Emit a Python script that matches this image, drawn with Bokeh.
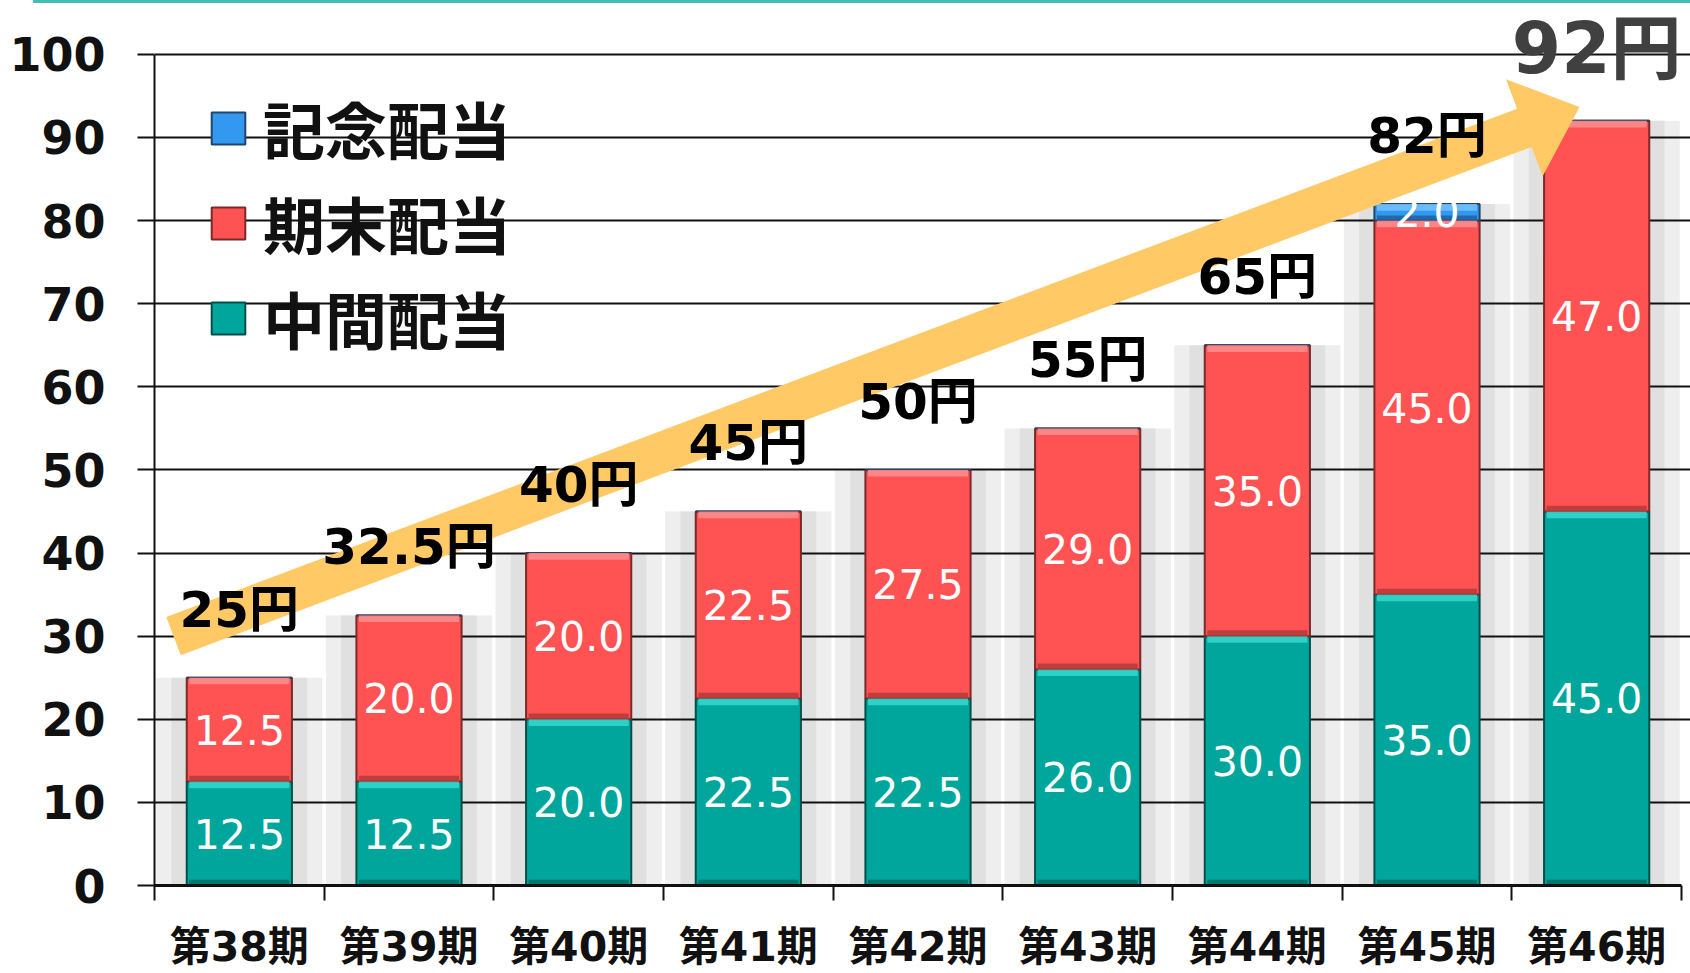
import math
from bokeh.plotting import figure
from bokeh.layouts import column
from bokeh.models import (Range1d, FixedTicker, ColumnDataSource, LabelSet,
                          Legend, LegendItem, Div)
from bokeh.core.properties import value
from bokeh.embed import file_html
from bokeh.resources import INLINE

# ---------------- data ----------------
categories = ["第38期", "第39期", "第40期", "第41期", "第42期",
              "第43期", "第44期", "第45期", "第46期"]
interim = [12.5, 12.5, 20.0, 22.5, 22.5, 26.0, 30.0, 35.0, 45.0]      # 中間配当
year_end = [12.5, 20.0, 20.0, 22.5, 27.5, 29.0, 35.0, 45.0, 47.0]     # 期末配当
memorial = [0.0, 0.0, 0.0, 0.0, 0.0, 0.0, 0.0, 2.0, 0.0]             # 記念配当
series_names = ["中間配当", "期末配当", "記念配当"]
y_ticks = [0, 10, 20, 30, 40, 50, 60, 70, 80, 90, 100]

# ---------------- derived ----------------
n = len(categories)
xs = [i + 0.5 for i in range(n)]
totals = [a + b + c for a, b, c in zip(interim, year_end, memorial)]
total_labels = [f"{t:g}円" for t in totals]

TOPLINE = 3
W, H = 1690, 973 - TOPLINE
ML, MR, MT, MB = 154, 0, 0, 86
FW, FH = W - ML - MR, H - MT - MB
SXU = 1527.0 / n              # px per category
SYU = 833.0 / 100.0           # px per dividend unit
x_end = FW / SXU
y_end = FH / SYU

JP = "DejaVu Sans, Noto Sans CJK JP"

p = figure(width=W, height=H, output_backend="svg", toolbar_location=None,
           x_range=Range1d(0, x_end), y_range=Range1d(0, y_end),
           min_border_left=ML, min_border_right=MR, min_border_top=MT,
           min_border_bottom=MB, outline_line_color=None,
           background_fill_color="white", border_fill_color="white")

# soft gray shadows behind bars
p.vbar(x=xs, top=totals, bottom=0, width=0.98, fill_color="#eeeeee",
       line_color=None, level="image")
p.vbar(x=xs, top=totals, bottom=0, width=0.80, fill_color="#e0e0e0",
       line_color=None, level="image")

# axes / grid
yt = FixedTicker(ticks=y_ticks)
p.yaxis.ticker = yt
p.yaxis.bounds = (y_ticks[0], y_ticks[-1])
p.ygrid.ticker = yt
p.ygrid.grid_line_color = "#111111"
p.ygrid.grid_line_width = 2
p.xgrid.grid_line_color = None

p.yaxis.major_tick_out = 17
p.yaxis.major_tick_in = 0
p.yaxis.minor_tick_line_color = None
p.yaxis.major_tick_line_color = "#111111"
p.yaxis.major_tick_line_width = 2
p.yaxis.axis_line_color = "#111111"
p.yaxis.axis_line_width = 2
p.yaxis.major_label_standoff = 32
p.yaxis.major_label_text_font = "DejaVu Sans"
p.yaxis.major_label_text_font_style = "bold"
p.yaxis.major_label_text_font_size = "46px"
p.yaxis.major_label_text_color = "#111111"

p.xaxis.ticker = FixedTicker(ticks=xs, minor_ticks=list(range(n + 1)))
p.xaxis.bounds = (0, n)
p.xaxis.major_label_overrides = {x: c for x, c in zip(xs, categories)}
p.xaxis.major_tick_out = 0
p.xaxis.major_tick_in = 0
p.xaxis.major_tick_line_color = None
p.xaxis.minor_tick_out = 15
p.xaxis.minor_tick_in = 0
p.xaxis.minor_tick_line_color = "#111111"
p.xaxis.minor_tick_line_width = 2
p.xaxis.axis_line_color = "#111111"
p.xaxis.axis_line_width = 3
p.xaxis.major_label_standoff = 22
p.xaxis.major_label_text_font = JP
p.xaxis.major_label_text_font_style = "bold"
p.xaxis.major_label_text_font_size = "41px"
p.xaxis.major_label_text_line_height = 1.0
p.xaxis.major_label_text_color = "#111111"

# stacked bars
src = ColumnDataSource(dict(x=xs, interim=interim, year_end=year_end,
                            memorial=memorial))
fills = ["#00A59B", "#FF5252", "#3399F0"]
lines = ["#00504A", "#7A2A2A", "#224466"]
lights = ["#33D6CC", "#FF8C8C", "#70BFFF"]
darks = ["#006B64", "#B03838", "#1F5C99"]
BW = 0.62
rs = p.vbar_stack(["interim", "year_end", "memorial"], x="x", width=BW,
                  source=src, fill_color=fills, line_color=lines,
                  line_width=2)

# bevel strips
stacks = [interim, year_end, memorial]
base = [0.0] * n
seg_mid = []
for k, vals in enumerate(stacks):
    bx, btop, bbot = [], [], []
    for i, v in enumerate(vals):
        if v > 0:
            bx.append(xs[i]); bbot.append(base[i]); btop.append(base[i] + v)
    p.vbar(x=bx, top=btop,
           bottom=[t - min(0.8, (t - b) * 0.4) for t, b in zip(btop, bbot)],
           width=BW - 0.03, fill_color=lights[k], line_color=None, fill_alpha=0.9)
    p.vbar(x=bx, top=[b + min(0.7, (t - b) * 0.3) for t, b in zip(btop, bbot)],
           bottom=bbot, width=BW - 0.03, fill_color=darks[k], line_color=None,
           fill_alpha=0.8)
    seg_mid.append(dict(x=bx, y=[(t + b) / 2 for t, b in zip(btop, bbot)],
                        t=[f"{v:.1f}" for v in vals if v > 0]))
    base = [b + v for b, v in zip(base, vals)]

# arrow (screen geometry converted to data)
S = ((xs[0] - 0.388) * SXU, (totals[0] + 5.0) * SYU)
T = ((xs[-1] - 0.101) * SXU, (totals[-1] + 1.67) * SYU)
dx, dy = T[0] - S[0], T[1] - S[1]
L = math.hypot(dx, dy)
ux, uy = dx / L, dy / L
nx, ny = -uy, ux
HL, HW, SW = 59, 52, 20.5
B = (T[0] - ux * HL, T[1] - uy * HL)
pts = [(S[0] + nx * SW, S[1] + ny * SW), (B[0] + nx * SW, B[1] + ny * SW),
       (B[0] + nx * HW, B[1] + ny * HW), T,
       (B[0] - nx * HW, B[1] - ny * HW), (B[0] - nx * SW, B[1] - ny * SW),
       (S[0] - nx * SW, S[1] - ny * SW)]
p.patch([q[0] / SXU for q in pts], [q[1] / SYU for q in pts],
        fill_color="#FFC966", line_color=None)

# value labels in segments
for d in seg_mid:
    p.add_layout(LabelSet(x="x", y="y", text="t", source=ColumnDataSource(d),
                          text_color="white", text_font=value("DejaVu Sans"),
                          text_font_size="41px", text_align="center",
                          text_baseline="middle"))

# total labels
tsrc = ColumnDataSource(dict(x=xs[:-1], y=totals[:-1], t=total_labels[:-1]))
p.add_layout(LabelSet(x="x", y="y", text="t", source=tsrc, y_offset=68,
                      text_color="#000000", text_font=value(JP),
                      text_font_style="bold", text_font_size="50px",
                      text_align="center", text_baseline="middle"))
lsrc = ColumnDataSource(dict(x=xs[-1:], y=totals[-1:], t=total_labels[-1:]))
p.add_layout(LabelSet(x="x", y="y", text="t", source=lsrc, y_offset=72,
                      text_color="#404040", text_font=value(JP),
                      text_font_style="bold", text_font_size="71px",
                      text_align="center", text_baseline="middle"))

# legend
items = [LegendItem(label=series_names[2], renderers=[rs[2]]),
         LegendItem(label=series_names[1], renderers=[rs[1]]),
         LegendItem(label=series_names[0], renderers=[rs[0]])]
leg = Legend(items=items, location=(53, FH - 362), orientation="vertical",
             glyph_width=42, glyph_height=40, label_standoff=14, spacing=5,
             padding=0, margin=0, border_line_color=None,
             background_fill_alpha=0, label_text_font="Noto Sans CJK JP",
             label_text_font_style="bold", label_text_font_size="62px",
             label_text_color="#111111")
p.add_layout(leg, "center")

# thin decorative teal band at the very top of the page
top_line = Div(text="", width=W - 33, height=TOPLINE, margin=(0, 0, 0, 33),
               styles={"background-color": "#45BDB5"})

layout = column(top_line, p, spacing=0)
open("out.html", "w").write(file_html(layout, INLINE))
